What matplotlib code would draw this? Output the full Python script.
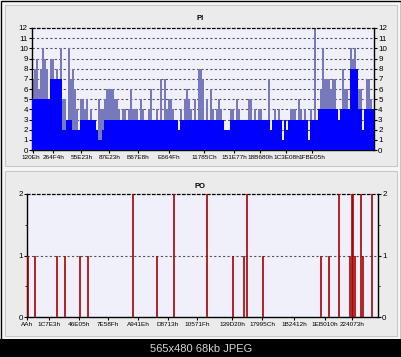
import matplotlib
matplotlib.use("Agg")
import matplotlib.pyplot as plt
from matplotlib.patches import Rectangle
from matplotlib.transforms import ScaledTranslation

plt.rcParams['font.family'] = ['Liberation Sans', 'DejaVu Sans']

W, H = 402, 357

# PI: one value per sample (blue fill level) and the peak reached in that sample
pi_base = [5, 5, 5, 5, 5, 5, 5, 5, 5, 7,
           7, 7, 7, 7, 7, 2, 2, 3, 3, 3,
           2, 2, 2, 2, 3, 3, 3, 3, 3, 3,
           3, 3, 2, 1, 1, 2, 3, 3, 3, 3,
           3, 3, 3, 3, 3, 3, 3, 3, 3, 3,
           3, 3, 3, 3, 3, 3, 3, 3, 3, 3,
           3, 3, 3, 3, 3, 3, 3, 3, 3, 3,
           3, 3, 3, 2, 3, 3, 3, 3, 3, 3,
           3, 3, 3, 3, 3, 3, 3, 3, 3, 3,
           3, 3, 3, 3, 3, 3, 2, 2, 2, 3,
           3, 3, 3, 3, 3, 3, 3, 3, 3, 3,
           3, 3, 3, 3, 3, 3, 3, 3, 3, 2,
           3, 3, 3, 3, 3, 1, 3, 2, 3, 3,
           3, 3, 3, 3, 3, 3, 3, 3, 1, 3,
           3, 3, 3, 4, 4, 4, 4, 4, 4, 4,
           4, 4, 4, 3, 4, 4, 4, 4, 4, 8,
           8, 8, 8, 4, 4, 2, 4, 4, 4, 4,
           4]
pi_peak = [7, 8, 9, 6, 8, 10, 9, 8, 5, 9,
           9, 7, 8, 7, 10, 5, 5, 3, 10, 7,
           8, 6, 4, 2, 5, 5, 4, 5, 3, 4,
           3, 3, 2, 5, 4, 4, 5, 6, 6, 6,
           6, 5, 5, 4, 3, 4, 4, 3, 4, 6,
           4, 4, 4, 3, 5, 4, 3, 3, 4, 6,
           3, 3, 4, 3, 7, 3, 7, 4, 5, 5,
           4, 3, 3, 2, 4, 3, 5, 6, 5, 4,
           3, 5, 3, 8, 8, 7, 3, 5, 3, 6,
           4, 3, 4, 5, 4, 3, 2, 2, 2, 4,
           4, 3, 5, 4, 3, 3, 3, 3, 5, 5,
           3, 4, 3, 4, 4, 3, 3, 3, 7, 2,
           3, 4, 3, 4, 3, 1, 3, 2, 3, 4,
           4, 4, 3, 5, 4, 3, 4, 3, 1, 4,
           3, 12, 3, 4, 6, 10, 7, 7, 7, 6,
           7, 7, 4, 3, 4, 8, 6, 6, 4, 10,
           9, 10, 8, 6, 6, 2, 4, 7, 7, 5,
           4]
pi_tick_pos = [0, 10.25, 24.25, 38.25, 52.5, 68, 85.5, 100.5, 113.5, 126.75, 139.5]
pi_tick_labels = ['120Eh', '264F4h', '55E23h', '87E23h', 'B67E8h', 'E664Fh',
                  '11785Ch', '151E77h', '18B680h', '1C3E08h', '1FBE05h']

# PO: position of each error event and its count
po_pos = [1, 8, 30, 38, 53, 61, 106, 130, 147, 180, 206, 217, 220, 236,
          294, 302, 312, 323, 325, 326, 328, 334, 336, 345]
po_val = [1, 1, 1, 1, 1, 1, 2, 1, 2, 2, 1, 1, 2, 1,
          1, 1, 2, 1, 2, 2, 1, 2, 1, 2]
po_tick_pos = [0, 22, 52, 81, 111, 141, 170, 205, 235, 267, 298, 325]
po_tick_labels = ['AAh', '1C7E3h', '46E05h', '7E58Fh', 'A941Eh', 'D8713h',
                  '10571Fh', '139D20h', '17995Ch', '1B2412h', '1EB010h', '224073h']


def px_rect(x0, y0, x1, y1, **kw):
    return Rectangle((x0 / W, 1 - y1 / H), (x1 - x0) / W, (y1 - y0) / H,
                     transform=fig.transFigure, zorder=-10, **kw)


def px_axes(x0, y0, x1, y1):
    return fig.add_axes([x0 / W, 1 - y1 / H, (x1 - x0) / W, (y1 - y0) / H])


def style_axes(ax, ymax):
    ax.set_facecolor('#eff0fa')
    ax.set_ylim(0, ymax)
    ax.set_yticks(range(ymax + 1))
    for y in range(1, ymax):
        ax.axhline(y, color='#555555', lw=0.8, ls=(0, (2, 2)), zorder=0.5)
    for s in ['left', 'right', 'bottom']:
        ax.spines[s].set_color('black')
        ax.spines[s].set_linewidth(1.0)
    ax.spines['top'].set_linestyle((0, (2, 2)))
    ax.spines['top'].set_linewidth(0.9)
    ax.tick_params(axis='y', right=True, labelright=True, length=2, width=0.8,
                   pad=1, labelsize=5.8)
    ax.tick_params(axis='x', length=2, width=0.8, pad=1.5, labelsize=4.6)


fig = plt.figure(figsize=(W / 100, H / 100), dpi=100)
fig.patch.set_facecolor('#f6f6f6')

# frame, panels and caption strip
fig.add_artist(px_rect(0.5, 0.5, 401.5, 345, facecolor='none', edgecolor='black', lw=1))
fig.add_artist(px_rect(5, 5, 397, 166, facecolor='#ebebeb', edgecolor='#c8c8c8', lw=0.8))
fig.add_artist(px_rect(5, 171, 397, 336, facecolor='#ebebeb', edgecolor='#c8c8c8', lw=0.8))
fig.add_artist(px_rect(0, 339, 402, 357, facecolor='black', edgecolor='none'))
fig.text(0.5, 1 - 349 / H, '565x480 68kb JPEG', color='#d4d4d4', fontsize=8,
         ha='center', va='center')

# PI
ax1 = px_axes(32, 28, 374, 150)
x = list(range(len(pi_base)))
ax1.bar(x, pi_peak, width=0.6, color='#7878bc', linewidth=0, zorder=2)
ax1.bar(x, pi_peak, width=0.35, color='#16165a', linewidth=0, zorder=3)
ax1.bar(x, pi_base, width=1.0, color='#0000ff', linewidth=0, zorder=4)
ax1.set_xlim(-0.5, len(pi_base) - 0.5)
ax1.set_xticks(pi_tick_pos)
ax1.set_xticklabels(pi_tick_labels)
style_axes(ax1, 12)
first = ax1.get_xticklabels()[0]
first.set_transform(first.get_transform() + ScaledTranslation(-2 / 100, 0, fig.dpi_scale_trans))
fig.text(200 / W, 1 - 19 / H, 'PI', fontsize=5.5, fontweight='bold',
         ha='center', va='center')

# PO
ax2 = px_axes(27, 194, 378, 317)
ax2.vlines(po_pos, 0, po_val, color='#a80000', lw=1.2, zorder=3)
ax2.set_xlim(0, 351)
ax2.set_xticks(po_tick_pos)
ax2.set_xticklabels(po_tick_labels)
style_axes(ax2, 2)
ax2.set_yticks([0.5, 1.5], minor=True)
ax2.tick_params(axis='y', which='minor', right=True, length=1.5, width=0.6)
fig.text(200 / W, 1 - 187 / H, 'PO', fontsize=5.5, fontweight='bold',
         ha='center', va='center')

fig.savefig('out.png', dpi=100, facecolor=fig.get_facecolor())
